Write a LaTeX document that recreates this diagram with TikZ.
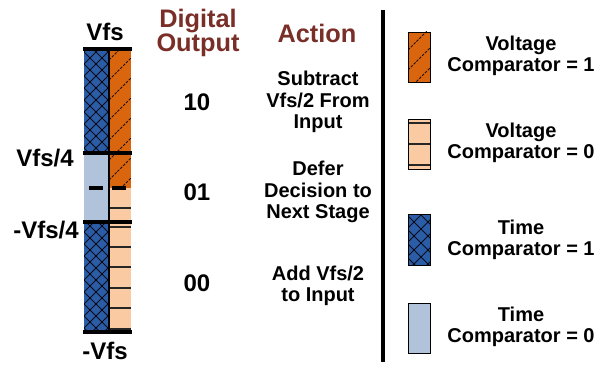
\documentclass[tikz,border=0pt]{standalone}
\usepackage{fontspec}
\setmainfont{Liberation Sans}
\definecolor{dblue}{HTML}{2B5CA6}
\definecolor{lblue}{HTML}{B1C3DB}
\definecolor{orng}{HTML}{D9650F}
\definecolor{peach}{HTML}{FACAA2}
\definecolor{hdrred}{HTML}{7A2E28}
\begin{document}
\begin{tikzpicture}[x=0.75pt,y=-0.75pt,
 lbl/.style={font=\bfseries\fontsize{18}{18}\selectfont, inner sep=0},
 txt/.style={font=\bfseries\fontsize{15}{16}\selectfont, align=center, inner sep=0},
 hdr/.style={font=\bfseries\fontsize{19}{18}\selectfont, text=hdrred, align=center, inner sep=0},
 hatch/.style={black, line width=0.6pt, opacity=0.85},
 dhatch/.style={black, line width=0.7pt, dash pattern=on 2pt off 1pt, opacity=0.85},
 stripe/.style={black!85, line width=1pt},
 level/.style={black, line width=2.4pt},
 swatch/.style={draw=black, line width=0.6pt}]
\useasboundingbox (0,0) rectangle (610,367);

% ---- bar fills
\fill[dblue] (84,49) rectangle (109,153);
\fill[lblue] (84,153) rectangle (109,222);
\fill[dblue] (84,222) rectangle (109,332);
\fill[orng] (109,49) rectangle (131,188);
\fill[peach] (109,188) rectangle (131,332);

% crosshatch on dark blue
\begin{scope}
\clip (84,49) rectangle (109,153) (84,222) rectangle (109,332);
\foreach \a in {-300,-288,...,140} {
  \draw[hatch] (\a,40) -- ++(300,300);
  \draw[hatch] (\a,340) -- ++(300,-300);
}
\end{scope}
% diagonal dashes on orange
\begin{scope}
\clip (109,49) rectangle (131,188);
\foreach \b in {40,60,...,220} \draw[dhatch] (109,\b) -- ++(30,-30);
\end{scope}
% peach stripes
\foreach \y in {208,227,247,267,288,308,329} \draw[stripe] (109,\y) -- (131,\y);

% divider and levels
\draw[black, line width=1.5pt] (109,49) -- (109,332);
\draw[level] (83,49) -- (132,49);
\draw[level] (83,153) -- (132,153);
\draw[level] (83,222) -- (132,222);
\draw[level] (83,332) -- (132,332);
\draw[level] (89,188) -- (103,188);
\draw[level] (112,188) -- (126,188);

% labels
\node[lbl] (vfs) at (105,32) {Vfs};
\node[lbl] (vfs4) at (45,158) {Vfs/4};
\node[lbl] (mvfs4) at (46,230) {-Vfs/4};
\node[lbl] (mvfs) at (105,351) {-Vfs};

% headers
\node[hdr] (hdo) at (198,33) {Digital\\Output};
\node[hdr] (hact) at (317,33) {Action};

\node[lbl] (d10) at (197,102) {10};
\node[lbl] (d01) at (197,192) {01};
\node[lbl] (d00) at (197,283) {00};

\node[txt] (a1) at (318,102) {Subtract\\Vfs/2 From\\Input};
\node[txt] (a2) at (318,192) {Defer\\Decision to\\Next Stage};
\node[txt] (a3) at (318,286) {Add Vfs/2\\to Input};

% separator
\draw[black, line width=3pt] (383,10) -- (383,362);

% legend swatches
\fill[orng] (408,32) rectangle (430,82);
\begin{scope}
\clip (408,32) rectangle (430,82);
\foreach \b in {50,70,...,110} \draw[dhatch] (408,\b) -- ++(30,-30);
\end{scope}
\draw[swatch] (408,32) rectangle (430,82);

\fill[peach] (408,119) rectangle (430,169);
\foreach \y in {123,144,165} \draw[stripe] (408,\y) -- (430,\y);
\draw[swatch] (408,119) rectangle (430,169);

\fill[dblue] (408,214) rectangle (430,265);
\begin{scope}
\clip (408,214) rectangle (430,265);
\foreach \a in {-100,-86,...,100} {
  \draw[hatch] (408+\a,200) -- ++(100,100);
  \draw[hatch] (408+\a,300) -- ++(100,-100);
}
\end{scope}
\draw[swatch] (408,214) rectangle (430,265);

\fill[lblue] (408,303) rectangle (430,353);
\draw[swatch] (408,303) rectangle (430,353);

\node[txt] (l1) at (521,56) {Voltage\\Comparator = 1};
\node[txt] (l2) at (521,143) {Voltage\\Comparator = 0};
\node[txt] (l3) at (521,240) {Time\\Comparator = 1};
\node[txt] (l4) at (521,327) {Time\\Comparator = 0};
\end{tikzpicture}
\end{document}
